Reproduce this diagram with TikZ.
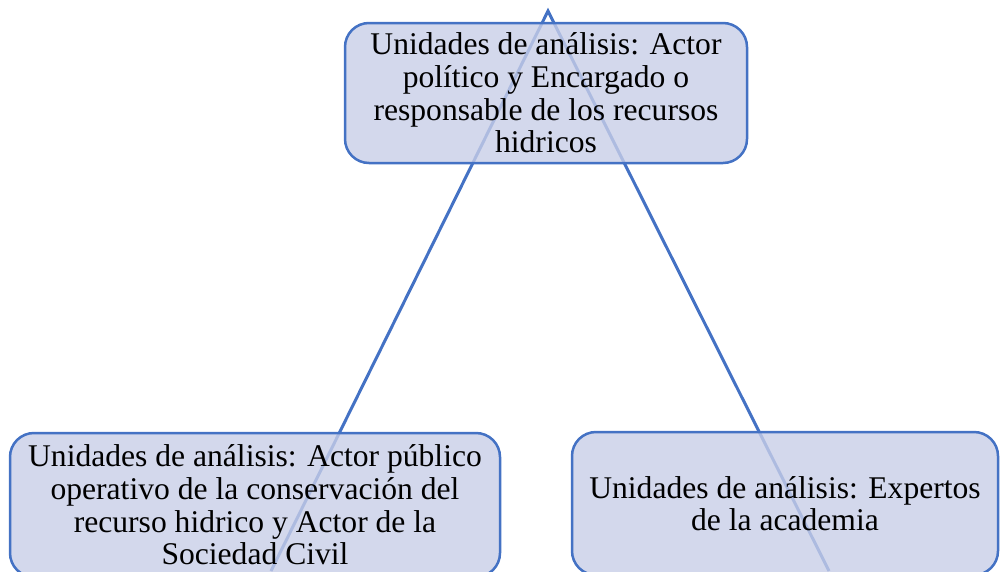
\documentclass[tikz,border=0pt]{standalone}
\usepackage{fontspec}
\setmainfont{Liberation Serif}
\definecolor{lineblue}{HTML}{4472C4}
\definecolor{boxfill}{RGB}{200,206,231}
\begin{document}
\begin{tikzpicture}[x=1pt,y=-1pt,
  unitbox/.style={draw=lineblue, line width=2.5pt, fill=boxfill, fill opacity=0.8, text opacity=1, draw opacity=1,
    rounded corners=24pt, align=center, inner sep=0pt, text=black,
    font=\fontsize{31.6}{32.6}\selectfont},
  leg/.style={draw=lineblue, line width=3pt}]
\useasboundingbox (0,0) rectangle (1000,571);
\clip (0,0) rectangle (1000,571);
\coordinate (apex) at (548,11);
\coordinate (bl) at (271,571);
\coordinate (br) at (829,571);
\draw[leg] (bl) -- (apex) -- (br);
\node[unitbox, minimum width=402pt, minimum height=140pt] (top) at (546,93)
  {Unidades de análisis: Actor\\político y Encargado o\\responsable de los recursos\\hidricos};
\node[unitbox, minimum width=490pt, minimum height=144pt] (left) at (255,505)
  {Unidades de análisis: Actor público\\operativo de la conservación del\\recurso hidrico y Actor de la\\Sociedad Civil};
\node[unitbox, minimum width=426pt, minimum height=143pt] (right) at (785,503.5)
  {Unidades de análisis: Expertos\\de la academia};
\end{tikzpicture}
\end{document}
